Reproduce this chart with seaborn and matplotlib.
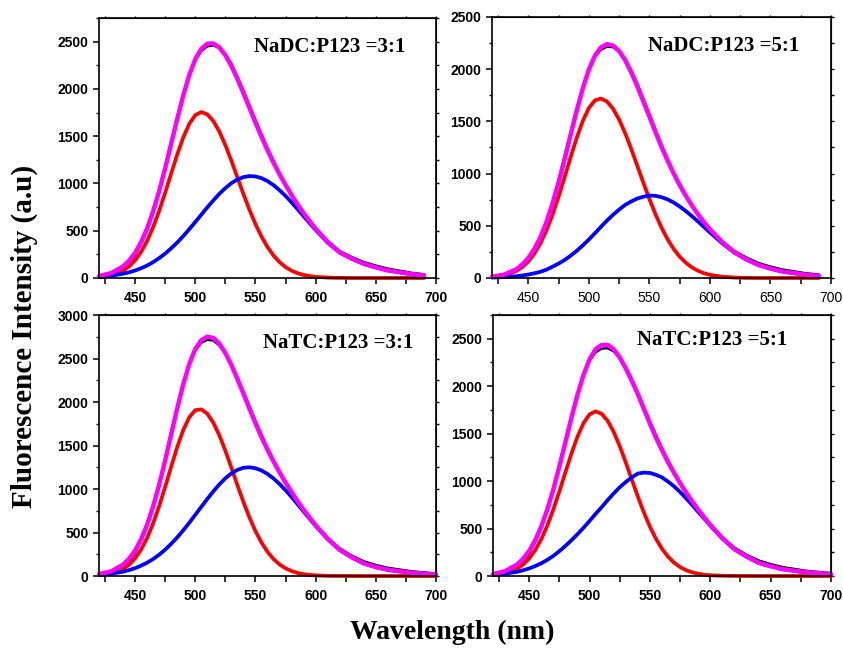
import matplotlib
matplotlib.use("Agg")
import matplotlib.pyplot as plt
import seaborn as sns
from matplotlib.ticker import MultipleLocator

# ==========================================
# DATA
# ==========================================
WL_TOP = [420, 430, 440, 445, 450, 455, 460, 465, 470, 475, 480, 485, 490, 495, 500,
          505, 510, 515, 520, 525, 530, 535, 540, 545, 550, 555, 560, 565, 570, 575,
          580, 585, 590, 595, 600, 610, 620, 630, 640, 650, 660, 680, 690]
WL_BOT = [420, 430, 440, 445, 450, 455, 460, 465, 470, 475, 480, 485, 490, 495, 500,
          505, 510, 515, 520, 525, 530, 535, 540, 545, 550, 555, 560, 565, 570, 575,
          580, 585, 590, 595, 600, 610, 620, 630, 640, 650, 660, 680, 700]

# NaDC:P123 = 3:1
nadc31_exp = [8, 25, 90, 150, 235, 360, 505, 715, 935, 1185, 1450, 1705, 1950, 2150, 2300,
              2400, 2450, 2460, 2430, 2365, 2270, 2130, 1985, 1830, 1675, 1525, 1375, 1240, 1110, 995,
              880, 785, 690, 608, 530, 395, 285, 222, 170, 132, 100, 55, 40]
nadc31_p1 = [8, 27, 77, 122, 187, 276, 392, 538, 709, 902, 1106, 1306, 1486, 1630, 1723,
             1755, 1731, 1660, 1549, 1405, 1240, 1064, 888, 722, 570, 438, 327, 237, 168, 115,
             77, 50, 32, 20, 12, 4, 1, 0, 0, 0, 0, 0, 0]
nadc31_p2 = [12, 24, 45, 60, 79, 103, 132, 168, 210, 258, 314, 375, 443, 516, 592,
             669, 747, 821, 890, 951, 1003, 1042, 1067, 1078, 1074, 1056, 1025, 982, 929, 868,
             800, 728, 654, 580, 508, 374, 270, 205, 150, 112, 80, 40, 28]
nadc31_fit = [20, 51, 122, 182, 266, 379, 524, 706, 919, 1160, 1420, 1681, 1929, 2146, 2315,
              2424, 2478, 2481, 2439, 2356, 2243, 2106, 1955, 1800, 1644, 1494, 1352, 1219, 1097, 983,
              877, 778, 686, 600, 520, 378, 271, 205, 150, 112, 80, 40, 28]

# NaDC:P123 = 5:1
nadc51_exp = [5, 20, 70, 110, 170, 262, 375, 540, 730, 940, 1170, 1400, 1625, 1830, 2000,
              2115, 2185, 2215, 2210, 2170, 2100, 1990, 1865, 1720, 1575, 1425, 1280, 1145, 1015, 900,
              795, 702, 615, 540, 470, 352, 262, 198, 145, 110, 82, 45, 35]
nadc51_p1 = [8, 24, 66, 104, 158, 233, 331, 456, 606, 778, 966, 1159, 1343, 1504, 1627,
             1701, 1719, 1690, 1621, 1518, 1387, 1237, 1076, 913, 757, 612, 483, 372, 279, 205,
             147, 102, 70, 46, 30, 12, 4, 1, 0, 0, 0, 0, 0]
nadc51_p2 = [4, 8, 17, 24, 33, 45, 59, 80, 108, 138, 172, 214, 260, 312, 368,
             428, 490, 550, 605, 655, 700, 733, 761, 778, 790, 787, 774, 753, 723, 685,
             642, 594, 543, 490, 437, 334, 244, 178, 125, 90, 62, 30, 20]
nadc51_fit = [12, 32, 83, 128, 191, 278, 390, 536, 714, 916, 1138, 1373, 1603, 1816, 1995,
              2129, 2209, 2240, 2226, 2173, 2087, 1970, 1837, 1691, 1547, 1399, 1257, 1125, 1002, 890,
              789, 696, 613, 536, 467, 346, 248, 179, 125, 90, 62, 30, 20]

# NaTC:P123 = 3:1
natc31_exp = [10, 30, 100, 168, 265, 405, 575, 805, 1060, 1355, 1660, 1950, 2220, 2440, 2590,
              2680, 2715, 2705, 2650, 2560, 2440, 2285, 2120, 1952, 1785, 1628, 1475, 1338, 1205, 1085,
              970, 865, 765, 676, 590, 440, 320, 235, 170, 128, 95, 55, 30]
natc31_p1 = [8, 27, 80, 130, 203, 304, 437, 605, 804, 1025, 1258, 1482, 1677, 1824, 1906,
             1915, 1865, 1763, 1617, 1440, 1245, 1044, 851, 673, 516, 385, 278, 195, 133, 88,
             57, 35, 21, 13, 7, 2, 1, 0, 0, 0, 0, 0, 0]
natc31_p2 = [13, 26, 50, 68, 90, 119, 153, 195, 245, 303, 370, 444, 525, 612, 703,
             795, 886, 973, 1053, 1123, 1179, 1220, 1244, 1250, 1239, 1213, 1173, 1121, 1058, 986,
             908, 825, 741, 658, 576, 426, 300, 215, 145, 103, 72, 36, 18]
natc31_fit = [21, 53, 130, 198, 293, 423, 590, 800, 1049, 1328, 1628, 1926, 2202, 2436, 2609,
              2710, 2751, 2736, 2670, 2563, 2424, 2264, 2095, 1923, 1755, 1598, 1451, 1316, 1191, 1074,
              965, 860, 762, 671, 583, 428, 301, 215, 145, 103, 72, 36, 18]

# NaTC:P123 = 5:1
natc51_exp = [8, 28, 95, 152, 235, 358, 505, 710, 925, 1175, 1435, 1690, 1925, 2125, 2268,
              2355, 2395, 2400, 2365, 2295, 2205, 2075, 1935, 1785, 1630, 1488, 1350, 1222, 1100, 990,
              885, 792, 700, 622, 545, 410, 300, 225, 165, 126, 95, 55, 32]
natc51_p1 = [8, 27, 76, 121, 185, 273, 388, 531, 701, 892, 1093, 1291, 1469, 1611, 1703,
             1735, 1709, 1635, 1518, 1368, 1197, 1016, 837, 670, 520, 392, 287, 204, 141, 94,
             61, 39, 24, 14, 8, 3, 1, 0, 0, 0, 0, 0, 0]
natc51_p2 = [12, 24, 45, 61, 80, 105, 134, 170, 212, 262, 317, 377, 441, 508, 580,
             655, 725, 800, 870, 935, 990, 1040, 1079, 1090, 1086, 1066, 1039, 995, 945, 885,
             819, 749, 676, 604, 531, 396, 282, 205, 140, 103, 72, 38, 20]
natc51_fit = [20, 51, 121, 182, 265, 378, 522, 701, 913, 1154, 1410, 1668, 1910, 2119, 2283,
              2390, 2434, 2435, 2388, 2303, 2187, 2056, 1916, 1760, 1606, 1458, 1326, 1199, 1086, 979,
              880, 788, 700, 618, 539, 399, 283, 205, 140, 103, 72, 38, 20]

LABELS = ["NaDC:P123 =3:1", "NaDC:P123 =5:1", "NaTC:P123 =3:1", "NaTC:P123 =5:1"]
X_TICKS = [450, 500, 550, 600, 650, 700]

# ==========================================
# STYLE
# ==========================================
sns.set_style("ticks")
plt.rcParams['font.family'] = ['Liberation Sans', 'DejaVu Sans']
plt.rcParams.update({'axes.edgecolor': 'black', 'text.color': 'black',
                     'xtick.color': 'black', 'ytick.color': 'black',
                     'axes.labelcolor': 'black'})
SERIF = ['Liberation Serif', 'DejaVu Serif']


def draw_panel(ax, wl, exp, p1, p2, fit, label, ymax, yticks, label_pos, bold_x=True):
    kw = dict(ax=ax, clip_on=False, solid_joinstyle='round')
    sns.lineplot(x=wl, y=exp, color='black', lw=1.6, **kw)
    sns.lineplot(x=wl, y=p1, color='#ff0000', lw=2.7, **kw)
    sns.lineplot(x=wl, y=p2, color='#0000ff', lw=2.7, **kw)
    sns.lineplot(x=wl, y=fit, color='#ff00ff', lw=3.2, **kw)

    ax.set_xlim(420, 700)
    ax.set_ylim(0, ymax)
    ax.set_xlabel('')
    ax.set_ylabel('')

    ax.set_xticks(X_TICKS)
    ax.set_xticklabels([str(t) for t in X_TICKS], fontsize=10,
                       fontweight='bold' if bold_x else 'normal')
    ax.set_yticks(yticks)
    ax.set_yticklabels([str(t) for t in yticks], fontsize=10, fontweight='bold')
    ax.xaxis.set_minor_locator(MultipleLocator(25))
    ax.yaxis.set_minor_locator(MultipleLocator(250))

    ax.tick_params(axis='x', which='both', direction='out', length=4.5, width=1.1, pad=5)
    ax.tick_params(axis='y', which='major', direction='out', length=4.5, width=1.1, pad=3)
    ax.tick_params(axis='y', which='minor', direction='out', length=2.5, width=1.0)

    for sp in ax.spines.values():
        sp.set_visible(True)
        sp.set_linewidth(1.2)

    # small mirrored ticks on top and right
    top = ax.secondary_xaxis('top')
    top.xaxis.set_major_locator(MultipleLocator(25))
    top.tick_params(direction='out', length=1.8, width=1.0, labeltop=False)
    right = ax.secondary_yaxis('right')
    right.yaxis.set_major_locator(MultipleLocator(250))
    right.tick_params(direction='out', length=1.8, width=1.0, labelright=False)

    ax.text(label_pos[0], label_pos[1], label, transform=ax.transAxes,
            family=SERIF, fontweight='bold', fontsize=15, ha='left', va='center')


fig = plt.figure(figsize=(8.43, 6.53), dpi=100)
ax1 = fig.add_axes([0.1174, 0.5743, 0.3998, 0.3981])
ax2 = fig.add_axes([0.5836, 0.5743, 0.4021, 0.3997])
ax3 = fig.add_axes([0.1174, 0.1179, 0.3998, 0.3997])
ax4 = fig.add_axes([0.5848, 0.1179, 0.4009, 0.3997])

draw_panel(ax1, WL_TOP, nadc31_exp, nadc31_p1, nadc31_p2, nadc31_fit, LABELS[0],
           2750, [0, 500, 1000, 1500, 2000, 2500], (0.46, 0.888))
draw_panel(ax2, WL_TOP, nadc51_exp, nadc51_p1, nadc51_p2, nadc51_fit, LABELS[1],
           2500, [0, 500, 1000, 1500, 2000, 2500], (0.46, 0.889), bold_x=False)
draw_panel(ax3, WL_BOT, natc31_exp, natc31_p1, natc31_p2, natc31_fit, LABELS[2],
           3000, [0, 500, 1000, 1500, 2000, 2500, 3000], (0.487, 0.891))
draw_panel(ax4, WL_BOT, natc51_exp, natc51_p1, natc51_p2, natc51_fit, LABELS[3],
           2750, [0, 500, 1000, 1500, 2000, 2500], (0.426, 0.904))

fig.text(0.029, 0.485, 'Fluorescence Intensity (a.u)', rotation=90, family=SERIF,
         fontweight='bold', fontsize=21, ha='center', va='center')
fig.text(0.537, 0.031, 'Wavelength (nm)', family=SERIF, fontweight='bold',
         fontsize=20, ha='center', va='center')

fig.savefig('out.png', dpi=100)
